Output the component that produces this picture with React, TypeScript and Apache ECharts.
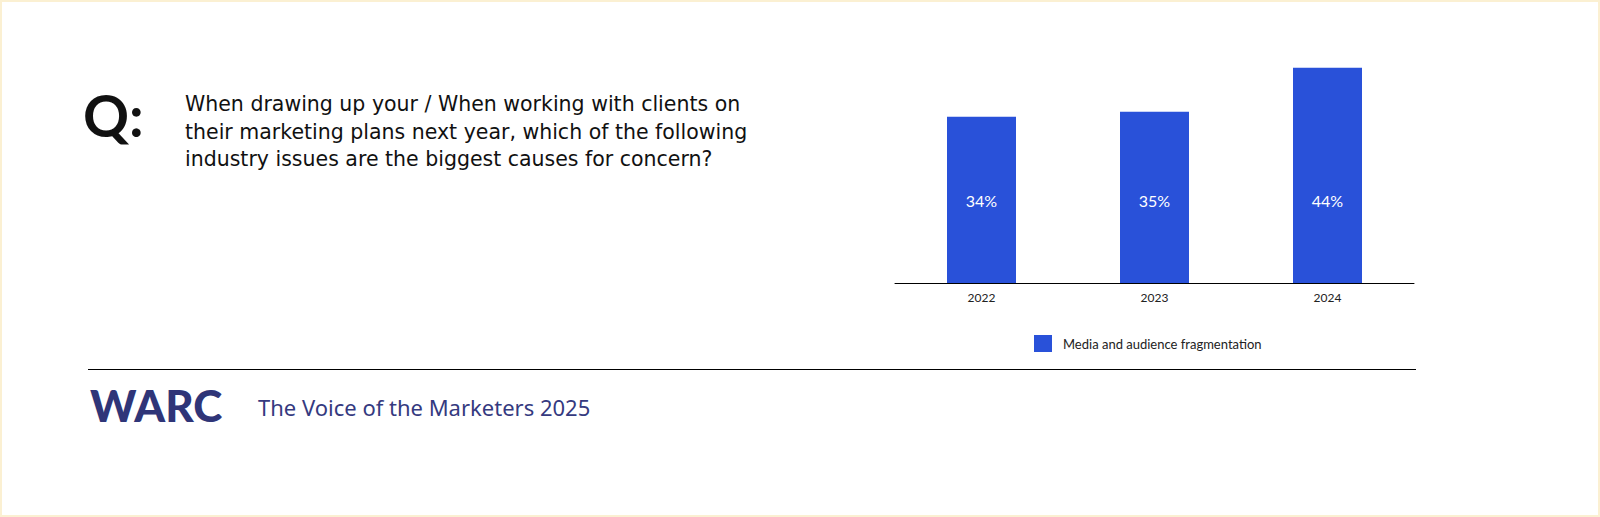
import React, { useEffect, useRef } from "react";
import * as echarts from "echarts";

const categories = ["2022", "2023", "2024"];
const seriesName = "Media and audience fragmentation";
const values = [34, 35, 44];
const questionLines = [
  "When drawing up your / When working with clients on",
  "their marketing plans next year, which of the following",
  "industry issues are the biggest causes for concern?",
];
const footerTitle = "The Voice of the Marketers 2025";
const logoText = "WARC";

const FONT = "Lato, 'Noto Sans', sans-serif";
const WIDE = "'Noto Sans', 'Open Sans', sans-serif";
const QFONT = "'DejaVu Sans', 'Noto Sans', sans-serif";
const BAR = "#2951D9";
const NAVY = "#2F3578";

export default function App() {
  const ref = useRef<HTMLDivElement>(null);
  useEffect(() => {
    document.body.style.margin = "0";
    const chart = echarts.init(ref.current!, null, { renderer: "svg" });
    const graphic: any[] = [
      {
        type: "rect",
        shape: { x: 1, y: 1, width: 1598, height: 515 },
        style: { fill: "none", stroke: "#FBF0D2", lineWidth: 2 },
        silent: true,
      },
      {
        type: "text",
        x: 83,
        y: 115,
        style: {
          text: "Q:",
          font: `bold 57px ${FONT}`,
          fill: "#111",
          verticalAlign: "middle",
        },
      },
      ...questionLines.map((t, i) => ({
        type: "text",
        x: 185,
        y: 104 + i * 27.5,
        style: {
          text: t,
          font: `20.5px ${QFONT}`,
          fill: "#111",
          verticalAlign: "middle",
        },
      })),
      {
        type: "line",
        shape: { x1: 88, y1: 369.5, x2: 1416, y2: 369.5 },
        style: { stroke: "#000", lineWidth: 1 },
      },
      {
        type: "text",
        x: 90,
        y: 405,
        style: {
          text: logoText,
          font: `900 44px ${FONT}`,
          fill: NAVY,
          verticalAlign: "middle",
        },
      },
      {
        type: "text",
        x: 258,
        y: 406.5,
        style: {
          text: footerTitle,
          font: `22px ${WIDE}`,
          fill: "#353A80",
          verticalAlign: "middle",
        },
      },
    ];
    chart.setOption({
      animation: false,
      grid: { left: 895, width: 519, top: 38.5, height: 244.5 },
      legend: {
        left: 1034,
        top: 335,
        padding: 0,
        itemWidth: 18,
        itemHeight: 17,
        icon: "rect",
        data: [seriesName],
        textStyle: {
          fontFamily: FONT,
          fontSize: 13,
          color: "#222",
          padding: [0, 0, 0, 6],
        },
      },
      xAxis: {
        type: "category",
        data: categories,
        axisLine: { lineStyle: { color: "#000", width: 1 } },
        axisTick: { show: false },
        axisLabel: {
          fontFamily: FONT,
          fontSize: 12,
          color: "#222",
          margin: 8,
        },
      },
      yAxis: {
        type: "value",
        min: 0,
        max: 50,
        show: false,
        splitLine: { show: false },
      },
      series: [
        {
          name: seriesName,
          type: "bar",
          data: values,
          barWidth: 69,
          itemStyle: { color: BAR },
          label: {
            show: true,
            position: "insideBottom",
            distance: 75,
            formatter: "{c}%",
            color: "#fff",
            fontFamily: FONT,
            fontSize: 16,
          },
        },
      ],
      graphic,
    });
    return () => chart.dispose();
  }, []);
  return <div ref={ref} style={{ width: 1600, height: 517 }} />;
}
